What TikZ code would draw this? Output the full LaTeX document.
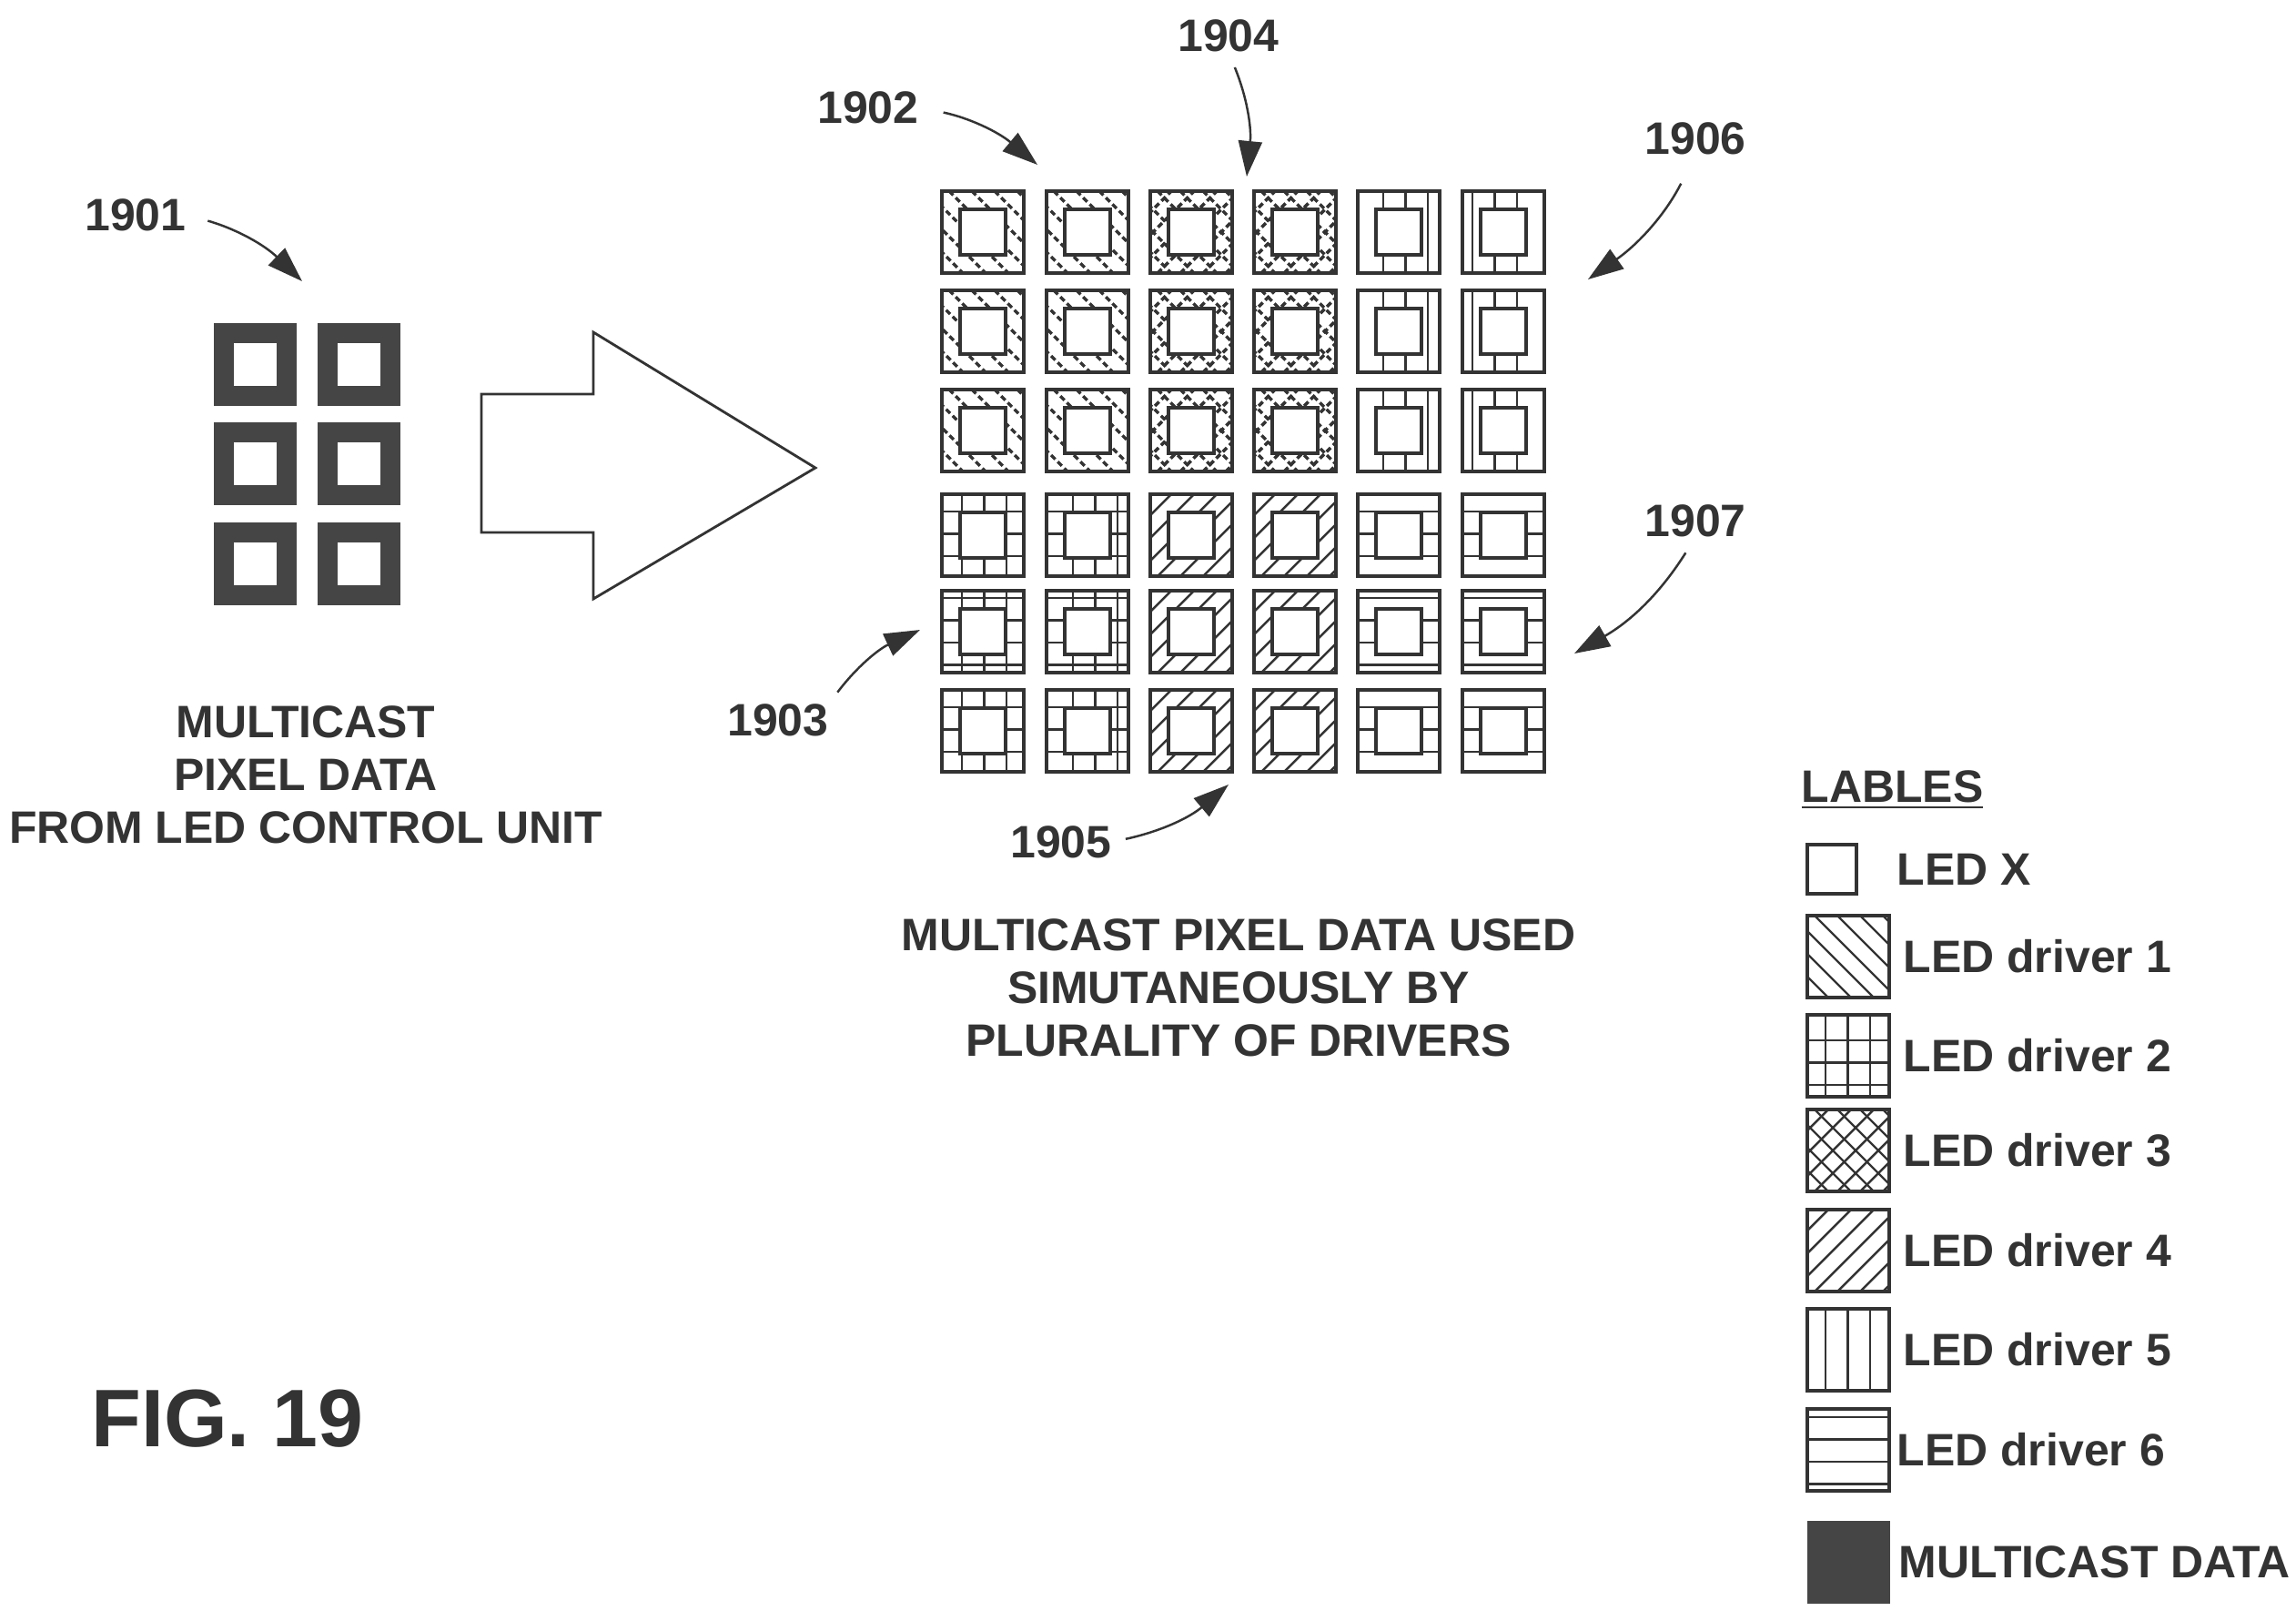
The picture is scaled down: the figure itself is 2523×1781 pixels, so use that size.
\documentclass[tikz,border=0pt]{standalone}
\usepackage{fontspec}
\setmainfont{Liberation Sans}
\usetikzlibrary{arrows.meta,positioning}
\definecolor{ink}{gray}{0.2}
\definecolor{halftone}{gray}{0.27}
\tikzset{
  ledcell/.style={draw=ink, line width=1.2pt, minimum size=0.9cm, inner sep=0pt, outer sep=0pt, anchor=north west},
  ledinner/.style={draw=ink, fill=white, line width=1.2pt, minimum size=0.5cm, inner sep=0pt, outer sep=0pt},
  datacell/.style={fill=halftone, minimum size=0.91cm, inner sep=0pt, outer sep=0pt, anchor=north west},
  datainner/.style={fill=white, minimum size=0.47cm, inner sep=0pt, outer sep=0pt},
  hatchline/.style={draw=ink, line width=0.7pt},
  mixline/.style={draw=ink, line width=1pt, dash pattern=on 1.8pt off 1.1pt},
  reflabel/.style={font=\fontsize{14.2}{16.5}\selectfont\bfseries, text=ink, inner sep=0pt},
  caption/.style={font=\fontsize{14.2}{16.5}\selectfont\bfseries, text=ink, inner sep=0pt, align=center},
  legendtext/.style={font=\fontsize{14.2}{16.5}\selectfont\bfseries, text=ink, inner sep=0pt, anchor=west},
  refarrow/.style={draw=ink, line width=0.7pt, -{Triangle[length=3.9mm,width=2.6mm]}},
}
\newcommand{\hatchone}[2]{\foreach \k in {-4,...,4} \draw[hatchline] (\k*25+8,0) -- ++(90,90);}
\newcommand{\hatchfour}[2]{\foreach \k in {-4,...,4} \draw[hatchline] (\k*25+8,90) -- ++(90,-90);}
\newcommand{\hatchthree}[2]{\hatchone{#1}{#2}\hatchfour{#1}{#2}}
\newcommand{\hatchfive}[2]{\foreach \k in {0,1,2} \draw[hatchline] (\k*24.6+#1,0) -- ++(0,90);}
\newcommand{\hatchsix}[2]{\foreach \k in {0,1,2,3} \draw[hatchline] (0,\k*24.5+#2) -- ++(90,0);}
\newcommand{\hatchtwo}[2]{\hatchfive{#1}{#2}\hatchsix{#1}{#2}}
\newcommand{\hatchonemix}[2]{\begin{scope}[hatchline/.style={mixline}]\hatchone{#1}{#2}\end{scope}}
\newcommand{\hatchthreemix}[2]{\begin{scope}[hatchline/.style={mixline}]\hatchthree{#1}{#2}\end{scope}}
% hatch clipped to a cell, offsets from its top left corner
\newcommand{\cellhatch}[4]{\begin{scope}[shift={(#1.north west)}]
    \clip (0,0) rectangle (90,90);
    \csname hatch#2\endcsname{#3}{#4}
  \end{scope}}

\begin{document}
\begin{tikzpicture}[x=0.01cm,y=-0.01cm]
  \useasboundingbox (0,0) rectangle (2523,1781);

  % multicast pixels on the left
  \foreach \cx [count=\c] in {235,349}
    \foreach \cy [count=\r] in {355,464,574} {
      \node[datacell] (data\r\c) at (\cx,\cy) {};
      \node[datainner] (datahole\r\c) at (data\r\c) {};
    }
  \node[reflabel] (n1901) at (149,236) {1901};
  \coordinate (tip1901) at (332,309);
  \draw[refarrow, shorten <=0.24cm] (n1901.east) to[bend left=14] (tip1901);
  \node[caption] (leftcap) at (336,851) {MULTICAST\\PIXEL DATA\\FROM LED CONTROL UNIT};

  % big arrow
  \draw[draw=ink, line width=0.8pt] (529,433) -- (652,433) -- (652,365) -- (896,514)
    -- (652,658) -- (652,585) -- (529,585) -- cycle;

  % driver cells
  \foreach \cx/\xo/\kd [count=\c] in {1035/22/onemix,1150/29/onemix,1264/0/threemix,1378/0/threemix,1492/28/five,1607/11/five}
    \foreach \cy [count=\r] in {210,319,428} {
      \node[ledcell] (cell\r\c) at (\cx,\cy) {};
      \cellhatch{cell\r\c}{\kd}{\xo}{0}
      \node[ledinner] (led\r\c) at (cell\r\c) {};
    }
  \foreach \cx/\xo/\kd [count=\c] in {1035/22/two,1150/29/two,1264/0/four,1378/0/four,1492/28/six,1607/11/six}
    \foreach \cy/\yo [count=\r from 4] in {543/19,649/8,758/19} {
      \node[ledcell] (cell\r\c) at (\cx,\cy) {};
      \cellhatch{cell\r\c}{\kd}{\xo}{\yo}
      \node[ledinner] (led\r\c) at (cell\r\c) {};
    }

  % reference numbers
  \node[reflabel] (n1902) at (954,118) {1902};
  \coordinate (tip1902) at (1140,181);
  \draw[refarrow, shorten <=0.27cm] (n1902.east) to[bend left=14] (tip1902);
  \node[reflabel] (n1904) at (1350,39) {1904};
  \coordinate (tip1904) at (1370,194);
  \draw[refarrow, shorten <=0.18cm] (n1904.south) to[bend left=14] (tip1904);
  \node[reflabel] (n1906) at (1863,152) {1906};
  \coordinate (tip1906) at (1745,307);
  \draw[refarrow, shorten <=0.35cm] (n1906.south) to[bend left=14] (tip1906);
  \node[reflabel] (n1907) at (1863,572) {1907};
  \coordinate (tip1907) at (1730,718);
  \draw[refarrow, shorten <=0.2cm] (n1907.south) to[bend left=14] (tip1907);
  \node[reflabel] (n1903) at (855,791) {1903};
  \coordinate (tip1903) at (1011,692);
  \draw[refarrow, shorten <=0.15cm] (n1903.north east) to[bend left=14] (tip1903);
  \node[reflabel] (n1905) at (1166,925) {1905};
  \coordinate (tip1905) at (1350,862);
  \draw[refarrow, shorten <=0.15cm] (n1905.east) to[bend right=14] (tip1905);

  \node[caption] (gridcap) at (1361,1085) {MULTICAST PIXEL DATA USED\\SIMUTANEOUSLY BY\\PLURALITY OF DRIVERS};
  \node[reflabel, font=\fontsize{25.5}{30}\selectfont\bfseries] (figlabel) at (250,1559) {FIG. 19};

  % legend
  \node[legendtext] (legendhead) at (1979,868) {\underline{LABLES}};
  \node[ledcell, minimum size=0.54cm] (keyled) at (1986,928) {};
  \node[legendtext, right=0.44cm of keyled] (textled) {LED X};
  \foreach \cy/\kd/\num/\xo/\yo in {1006/one/1/0/0,1115/two/2/20/28,1219/three/3/0/0,1329/four/4/0/0,1438/five/5/20/0} {
    \node[ledcell] (key\num) at (1986,\cy) {};
    \cellhatch{key\num}{\kd}{\xo}{\yo}
    \node[legendtext, right=0.15cm of key\num] (text\num) {LED driver \num};
  }
  \node[ledcell] (key6) at (1986,1548) {};
  \cellhatch{key6}{six}{0}{9}
  \node[legendtext, right=0.08cm of key6] (text6) {LED driver 6};
  \node[datacell] (keydata) at (1986,1671) {};
  \node[legendtext, right=0.09cm of keydata] (textdata) {MULTICAST DATA};
\end{tikzpicture}
\end{document}
